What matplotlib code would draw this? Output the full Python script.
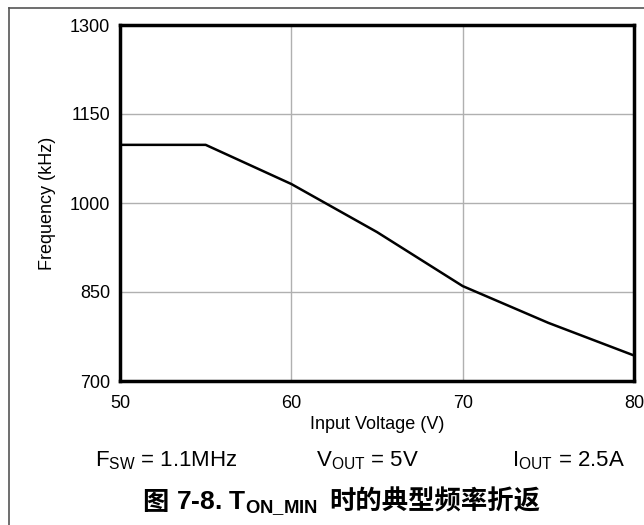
import matplotlib
matplotlib.use("Agg")
import matplotlib.pyplot as plt
from matplotlib.lines import Line2D

# data
vin = [50, 55, 60, 65, 70, 75, 80]
freq = [1098, 1098, 1032, 951, 860, 798, 743]
xticks = [50, 60, 70, 80]
yticks = [700, 850, 1000, 1150, 1300]

plt.rcParams['font.family'] = ['Liberation Sans', 'Noto Sans CJK SC', 'DejaVu Sans']
plt.rcParams['mathtext.fontset'] = 'custom'
plt.rcParams['mathtext.rm'] = 'Liberation Sans'
plt.rcParams['mathtext.bf'] = 'Liberation Sans:bold'

fig = plt.figure(figsize=(6.44, 5.25), dpi=100)
ax = fig.add_axes([120 / 644, 1 - 381 / 525, 514 / 644, 356 / 525])

ax.plot(vin, freq, color='black', lw=1.8)
ax.set_xlim(50, 80)
ax.set_ylim(700, 1300)
ax.set_xticks(xticks)
ax.set_yticks(yticks)
ax.tick_params(length=0, labelsize=13)
ax.tick_params(axis='x', pad=10)
ax.tick_params(axis='y', pad=7)
ax.grid(True, color='#b0b0b0', lw=1)
for s in ax.spines.values():
    s.set_linewidth(2.5)
    s.set_color('black')
ax.set_xlabel('Input Voltage (V)', fontsize=13, labelpad=3)
ax.set_ylabel('Frequency (kHz)', fontsize=13, labelpad=10)

# outer frame (top and left edges only visible)
fig.add_artist(Line2D([8.5 / 644, 1], [1 - 7.5 / 525] * 2, color='#555555', lw=1.2, transform=fig.transFigure))
fig.add_artist(Line2D([8.5 / 644] * 2, [0, 1 - 7.5 / 525], color='#555555', lw=1.2, transform=fig.transFigure))

fy = 1 - 466 / 525
fig.text(95 / 644, fy, r'F$_{\mathregular{SW}}$ = 1.1MHz', fontsize=16, va='baseline')
fig.text(316 / 644, fy, r'V$_{\mathregular{OUT}}$ = 5V', fontsize=16, va='baseline')
fig.text(512 / 644, fy, r'I$_{\mathregular{OUT}}$ = 2.5A', fontsize=16, va='baseline')

ty = 1 - 510 / 525
fig.text(142 / 644, ty, '图', fontsize=19, fontweight='bold', va='baseline', family=['Noto Sans CJK SC'])
fig.text(176 / 644, ty, r'7-8. T$_{\mathbf{ON\_MIN}}$', fontsize=19, fontweight='bold', va='baseline')
fig.text(329 / 644, ty, '时的典型频率折返', fontsize=19, fontweight='bold', va='baseline', family=['Noto Sans CJK SC'])

fig.savefig('out.png', dpi=100)
